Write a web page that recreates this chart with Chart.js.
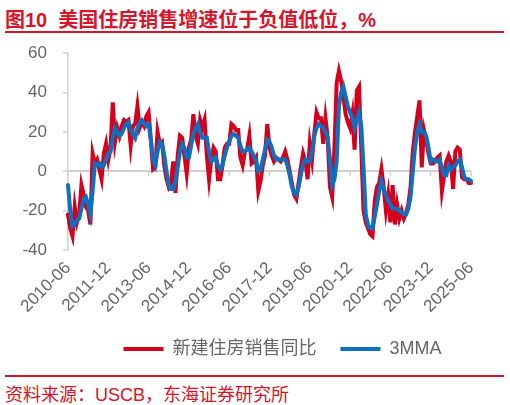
<!DOCTYPE html>
<html>
<head>
<meta charset="utf-8">
<script src="https://cdn.jsdelivr.net/npm/chart.js@4.4.1/dist/chart.umd.min.js"></script>
<style>
  body { margin: 0; width: 510px; height: 405px; background: #fff; position: relative; overflow: hidden;
         font-family: 'Liberation Sans', 'Noto Sans CJK SC', sans-serif; }
  #title { position: absolute; left: 5px; top: 4px; font-size: 20px; font-weight: bold; color: #d7142a; white-space: nowrap; }
  .rule { position: absolute; left: 5px; width: 499px; height: 2px; background: #d7142a; }
  #box { position: absolute; left: 0; top: 27px; width: 510px; height: 341px; }
  #src { position: absolute; left: 5px; top: 380px; font-size: 18px; color: #d7142a; white-space: nowrap; }
</style>
</head>
<body>
<div id="title">图10&nbsp;&nbsp;美国住房销售增速位于负值低位，%</div>
<div class="rule" style="top:31px"></div>
<div id="box"><canvas id="chart"></canvas></div>
<div class="rule" style="top:375px"></div>
<div id="src">资料来源：USCB，东海证券研究所</div>
<script>
// 2010-06 .. 2025-06, monthly
const tickLabels = ['2010-06', '2011-12', '2013-06', '2014-12', '2016-06', '2017-12',
                    '2019-06', '2020-12', '2022-06', '2023-12', '2025-06'];

const salesYoY = [
  -22, -29, -33, -18, -26, -22, -7, -12, -18, -20, -27, 9, 4, 6, 1, -4, 9, 14, 6, 12,
  35, 15, 22, 18, 23, 26, 25, 26, 13, 23, 24, 33, 22, 25, 23, 28, 30, 16, 1, 2,
  20, 14, 15, 3, -4, -8, -6, 5, -11, 8, 18, 17, 8, -1, 12, 16, 29, 18, 14, 26,
  22, 26, 8, -4, 6, 12, 10, -4, -4, 3, 12, 14, 14, 24, 23, 21, 21, 7, 3, 10,
  11, 18, 4, 5, 7, -10, -5, 3, 8, 24, 12, 8, 5, 7, 6, 5, 7, 10, 6, 0,
  -6, -12, -14, -6, 2, 9, 5, -4, 14, 6, 19, 30, 27, 27, 14, 27, 17, -8, -13, 12,
  45, 51, 46, 38, 29, 25, 22, 29, 11, 41, 43, 12, -20, -26, -29, -32, -33, -15, -8, -6,
  1, -8, -20, -12, -26, -7, -27, -17, -24, -20, -24, -21, -17, -8, 10, 20, 28, 36, 2, 21,
  16, 9, 4, 4, 5, 7, 8, -10, -2, 5, 8, 5, -9, 10, 12, 11, -3, -4, -4, -6,
  -6
];

const mma3 = [
  -7, -20, -28, -27, -25, -24, -19, -14, -13, -17, -22, -10, 4, 3, 4, 2, 3, 6, 9, 10,
  17, 22, 20, 18, 19, 22, 24, 25, 21, 19, 17, 22, 25, 26, 24, 23, 24, 16, 6, 3,
  10, 15, 14, 8, 0, -7, -9, -9, -5, 2, 10, 14, 12, 7, 7, 13, 19, 22, 24, 20,
  17, 17, 17, 10, 5, 6, 7, 3, 1, 3, 8, 12, 15, 18, 19, 18, 17, 13, 10, 10,
  11, 12, 10, 8, 5, 0, 1, 6, 11, 16, 15, 12, 8, 6, 6, 6, 6, 6, 3, -2,
  -8, -11, -12, -8, -2, 4, 6, 5, 5, 10, 18, 22, 24, 23, 22, 20, 17, 6, -7, -4,
  5, 33, 40, 43, 38, 33, 30, 27, 22, 26, 30, 23, 2, -22, -27, -29, -29, -23, -17, -10,
  -5, -9, -12, -15, -17, -19, -19, -19, -20, -21, -22, -22, -19, -13, 0, 12, 20, 24, 20, 20,
  18, 12, 5, 6, 5, 5, 6, 2, -2, -2, 3, 1, 2, 3, 5, 6, 2, -3, -4, -4,
  -5
];

const months = [];
for (let y = 2010, m = 6; months.length < salesYoY.length; m++) {
  if (m > 12) { m = 1; y++; }
  months.push(y + '-' + String(m).padStart(2, '0'));
}

const RED = '#d7001c';
const BLUE = '#0f6fc0';
const GRAY = '#d0d0d0';
const FONT = "'Liberation Sans', 'Noto Sans CJK SC', sans-serif";

// small tick marks hanging under the zero line
const zeroTicks = {
  id: 'zeroTicks',
  beforeDatasetsDraw(chart) {
    const { ctx, scales: { x, y } } = chart;
    const y0 = y.getPixelForValue(0);
    ctx.save();
    ctx.strokeStyle = GRAY;
    ctx.lineWidth = 1.5;
    for (let i = 0; i < months.length; i += 18) {
      const px = x.getPixelForValue(i);
      ctx.beginPath();
      ctx.moveTo(px, y0);
      ctx.lineTo(px, y0 + 5);
      ctx.stroke();
    }
    ctx.restore();
  }
};

// legend sits a bit right of the plot centre in the original
const legendShift = {
  id: 'legendShift',
  afterLayout(chart) {
    chart.legend.left += 43;
    chart.legend.right += 43;
  }
};

new Chart(document.getElementById('chart'), {
  type: 'line',
  data: {
    labels: months,
    datasets: [{
      label: '新建住房销售同比',
      data: salesYoY,
      borderColor: RED,
      backgroundColor: RED,
      borderWidth: 4,
      pointRadius: 0,
      borderCapStyle: 'round',
      order: 1
    }, {
      label: '3MMA',
      data: mma3,
      borderColor: BLUE,
      backgroundColor: BLUE,
      borderWidth: 4,
      pointRadius: 0,
      borderCapStyle: 'round',
      order: 0
    }]
  },
  options: {
    responsive: true,
    maintainAspectRatio: false,
    animation: false,
    layout: { padding: { left: 8, right: 39, top: 8, bottom: 0 } },
    plugins: {
      legend: {
        position: 'bottom',
        labels: {
          usePointStyle: true,
          pointStyle: 'line',
          pointStyleWidth: 40,
          padding: 24,
          color: '#666',
          font: { family: FONT, size: 18 },
          sort: (a, b) => a.datasetIndex - b.datasetIndex
        }
      },
      tooltip: { enabled: false }
    },
    scales: {
      x: {
        grid: { display: false },
        border: { display: false },
        ticks: {
          autoSkip: false,
          minRotation: 45,
          maxRotation: 45,
          padding: 0,
          color: '#666',
          font: { family: FONT, size: 17 },
          callback: (v, i) => i % 18 === 0 ? tickLabels[i / 18] : null
        },
        afterFit: s => { s.height = 66; }
      },
      y: {
        min: -40,
        max: 60,
        ticks: { stepSize: 20, padding: 16, color: '#666', font: { family: FONT, size: 17 } },
        grid: {
          color: c => c.tick && c.tick.value === 0 ? GRAY : 'rgba(0,0,0,0)',
          lineWidth: 2,
          tickColor: GRAY,
          tickWidth: 1.5,
          tickLength: 5
        },
        border: { color: GRAY, width: 1.5 },
        afterFit: s => { s.width = 60; }
      }
    }
  },
  plugins: [zeroTicks, legendShift]
});
</script>
</body>
</html>
